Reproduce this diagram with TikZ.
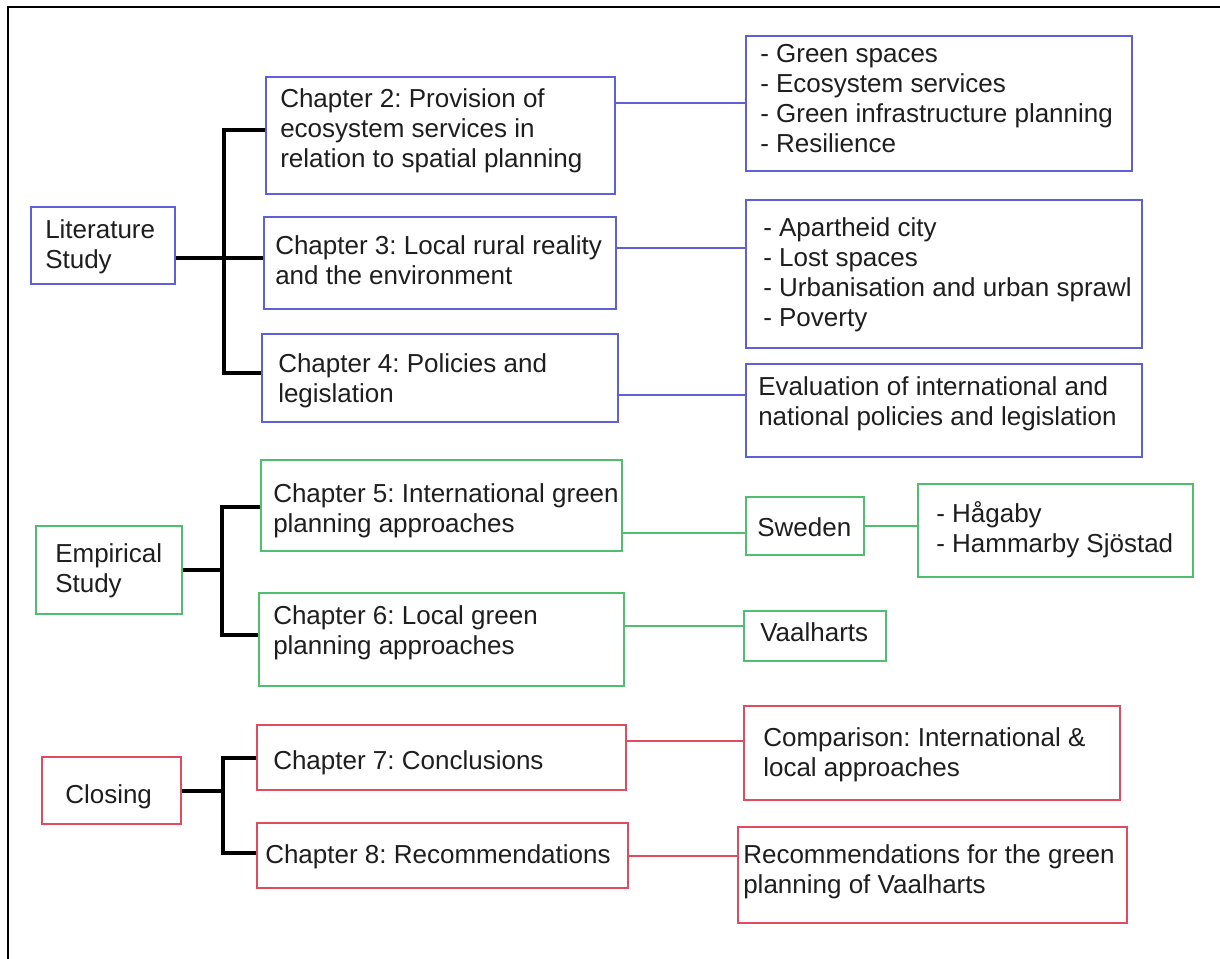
\documentclass[tikz,border=0pt]{standalone}
\usepackage{fontspec}
\setmainfont{Liberation Sans}
\usetikzlibrary{fit}

\definecolor{litblue}{RGB}{95,95,215}
\definecolor{empgreen}{RGB}{80,190,110}
\definecolor{closred}{RGB}{225,75,95}
\definecolor{ink}{RGB}{30,30,30}

\tikzset{
  frameline/.style={line width=1.5pt, black},
  bx/.style={draw=#1, line width=1.5pt, inner sep=0pt, fill=white},
  % text blocks are placed by the baseline of their last line
  txt/.style={anchor=base west, inner sep=0pt, align=left, text=ink,
              font=\fontsize{19.5pt}{22.5pt}\selectfont\frenchspacing},
  trunk/.style={line width=3pt, black, line join=miter},
  lk/.style={line width=1.5pt, draw=#1},
}

\begin{document}
\begin{tikzpicture}[x=0.75pt, y=-0.75pt]
\useasboundingbox (0,0) rectangle (1220,959);
\fill[white] (0,0) rectangle (1220,959);

% page frame (top and left edges)
\draw[frameline] (1222,7) -- (8,7) -- (8,961);

% ---------- Literature study ----------
\node[bx=litblue, fit={(31,207)(175,284)}] (lit) {};
\node[txt] (litt) at (45,268) {Literature\\Study};

\node[bx=litblue, fit={(266,77)(615,194)}] (c2) {};
\node[txt] (c2t) at (280,168) {Chapter 2: Provision of\\ecosystem services in\\relation to spatial planning};

\node[bx=litblue, fit={(264,217)(616,309)}] (c3) {};
\node[txt] (c3t) at (275,285) {Chapter 3: Local rural reality\\and the environment};

\node[bx=litblue, fit={(262,334)(618,422)}] (c4) {};
\node[txt] (c4t) at (278,402) {Chapter 4: Policies and\\legislation};

\node[bx=litblue, fit={(746,36)(1132,171)}] (gl) {};
\node[txt] (glt) at (760,153) {- Green spaces\\- Ecosystem services\\- Green infrastructure planning\\- Resilience};

\node[bx=litblue, fit={(746,200)(1142,348)}] (ap) {};
\node[txt] (apt) at (763,326) {- Apartheid city\\- Lost spaces\\- Urbanisation and urban sprawl\\- Poverty};

\node[bx=litblue, fit={(746,364)(1142,457)}] (ev) {};
\node[txt] (evt) at (758,425) {Evaluation of international and\\national policies and legislation};

% ---------- Empirical study ----------
\node[bx=empgreen, fit={(36,526)(182,614)}] (emp) {};
\node[txt] (empt) at (55,592) {Empirical\\Study};

\node[bx=empgreen, fit={(261,460)(622,551)}] (c5) {};
\node[txt] (c5t) at (273,532) {Chapter 5: International green\\planning approaches};

\node[bx=empgreen, fit={(259,593)(624,686)}] (c6) {};
\node[txt] (c6t) at (273,654) {Chapter 6: Local green\\planning approaches};

\node[bx=empgreen, fit={(746,497)(864,555)}] (swe) {};
\node[txt] (swet) at (757,536) {Sweden};

\node[bx=empgreen, fit={(918,484)(1193,577)}] (hag) {};
\node[txt] (hagt) at (936,552) {- Hågaby\\- Hammarby Sjöstad};

\node[bx=empgreen, fit={(744,611)(886,661)}] (vaal) {};
\node[txt] (vaalt) at (760,641) {Vaalharts};

% ---------- Closing ----------
\node[bx=closred, fit={(42,757)(181,824)}] (clo) {};
\node[txt] (clot) at (65,803) {Closing};

\node[bx=closred, fit={(257,725)(626,790)}] (c7) {};
\node[txt] (c7t) at (273,769) {Chapter 7: Conclusions};

\node[bx=closred, fit={(257,823)(628,888)}] (c8) {};
\node[txt] (c8t) at (265,863) {Chapter 8: Recommendations};

\node[bx=closred, fit={(744,706)(1120,800)}] (cmp) {};
\node[txt] (cmpt) at (763,776) {Comparison: International \&\\local approaches};

\node[bx=closred, fit={(738,827)(1127,923)}] (rec) {};
\node[txt] (rect) at (743,893) {Recommendations for the green\\planning of Vaalharts};

% ---------- connector levels ----------
\coordinate (litj) at (224,258);
\coordinate (y2) at (0,130);
\coordinate (y4) at (0,373);
\coordinate (empj) at (222,570);
\coordinate (y5) at (0,507);
\coordinate (y6) at (0,635);
\coordinate (cloj) at (223,791);
\coordinate (y8) at (0,853);

\coordinate (ya) at (0,248);
\coordinate (ye) at (0,395);
\coordinate (ys) at (0,533);
\coordinate (yv) at (0,626);
\coordinate (yc) at (0,741);
\coordinate (yr) at (0,856);

% black tree connectors
\draw[trunk] (lit.east |- litj) -- (c3.west |- litj);
\draw[trunk] (c2.west |- y2) -| (litj) |- (c4.west |- y4);

\draw[trunk] (emp.east |- empj) -- (empj);
\draw[trunk] (c5.west |- y5) -| (empj) |- (c6.west |- y6);

\draw[trunk] (clo.east |- cloj) -- (cloj);
\draw[trunk] (c7.west) -| (cloj) |- (c8.west |- y8);

% coloured links
\draw[lk=litblue] (c2.east |- gl.west) -- (gl.west);
\draw[lk=litblue] (c3.east |- ya) -- (ap.west |- ya);
\draw[lk=litblue] (c4.east |- ye) -- (ev.west |- ye);

\draw[lk=empgreen] (c5.east |- ys) -- (swe.west |- ys);
\draw[lk=empgreen] (swe.east) -- (hag.west |- swe.east);
\draw[lk=empgreen] (c6.east |- yv) -- (vaal.west |- yv);

\draw[lk=closred] (c7.east |- yc) -- (cmp.west |- yc);
\draw[lk=closred] (c8.east |- yr) -- (rec.west |- yr);
\end{tikzpicture}
\end{document}
